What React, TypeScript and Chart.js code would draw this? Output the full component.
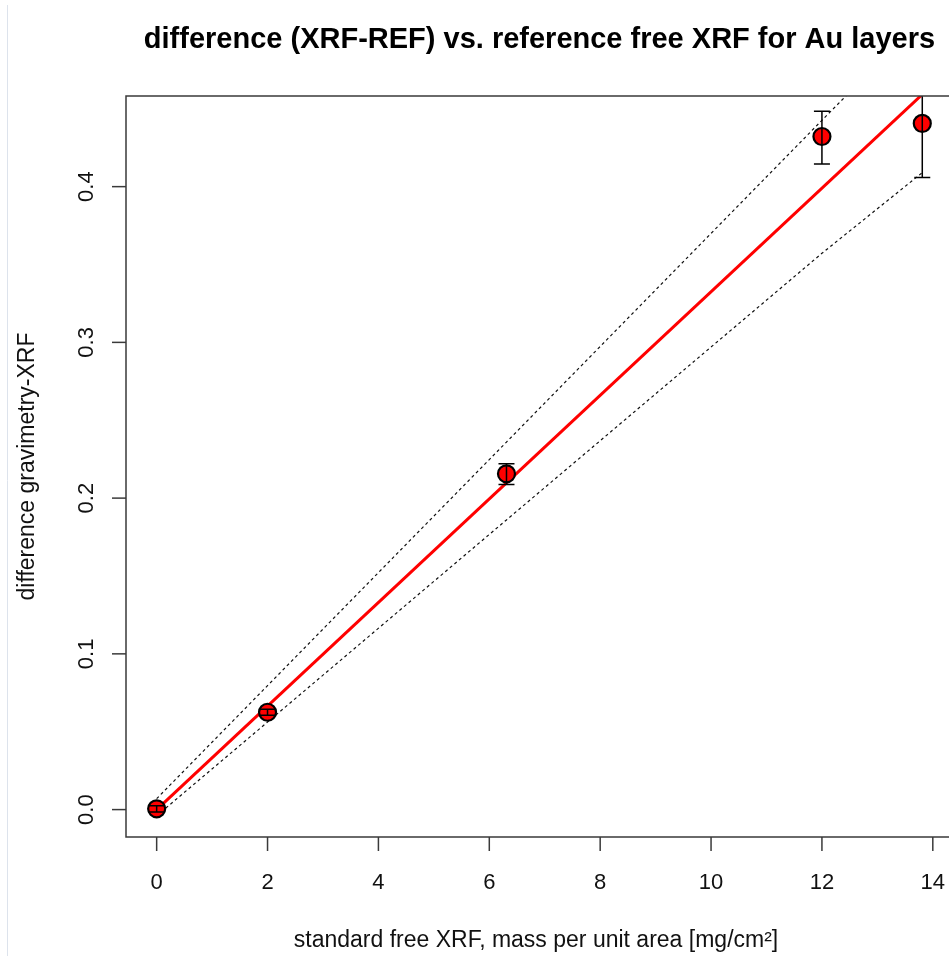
import React, { useEffect, useRef } from "react";
import { Chart, registerables } from "chart.js";

Chart.register(...registerables);

const titleText = "difference (XRF-REF) vs. reference free XRF for Au layers";
const xTitle = "standard free XRF, mass per unit area [mg/cm²]";
const yTitle = "difference gravimetry-XRF";

const xValues = [0, 2, 6.31, 12, 13.81];
const yValues = [0.0005, 0.0625, 0.2156, 0.4322, 0.4406];
const yErrLow = [-0.0015, 0.0605, 0.2087, 0.4146, 0.4059];
const yErrHigh = [0.0025, 0.0645, 0.222, 0.4484, 0.4753];

const fitX = [0, 13.81];
const fitY = [0, 0.4592];

const bandX = [0, 2, 6.31, 12, 13.81];
const bandUpper = [0.007, 0.0796, 0.236, 0.4426, 0.508];
const bandLower = [-0.004, 0.0562, 0.186, 0.3572, 0.409];

const xTicks = [0, 2, 4, 6, 8, 10, 12, 14];
const xTickLabels = ["0", "2", "4", "6", "8", "10", "12", "14"];
const yTicks = [0, 0.1, 0.2, 0.3, 0.4];
const yTickLabels = ["0.0", "0.1", "0.2", "0.3", "0.4"];

const FONT = '"Liberation Sans", Arial, sans-serif';

const decorPlugin = {
  id: "decor",
  afterDatasetsDraw(chart: any) {
    const ctx = chart.ctx;
    const area = chart.chartArea;
    const xs = chart.scales.x;
    const ys = chart.scales.y;
    // error bars
    ctx.save();
    ctx.beginPath();
    ctx.rect(area.left, area.top, area.right - area.left, area.bottom - area.top);
    ctx.clip();
    ctx.strokeStyle = "#000";
    ctx.lineWidth = 1.5;
    for (let i = 0; i < xValues.length; i++) {
      const px = xs.getPixelForValue(xValues[i]);
      const lo = ys.getPixelForValue(yErrLow[i]);
      const hi = ys.getPixelForValue(yErrHigh[i]);
      ctx.beginPath();
      ctx.moveTo(px, lo);
      ctx.lineTo(px, hi);
      ctx.moveTo(px - 8, lo);
      ctx.lineTo(px + 8, lo);
      ctx.moveTo(px - 8, hi);
      ctx.lineTo(px + 8, hi);
      ctx.stroke();
    }
    ctx.restore();

    // box (left, top, bottom; right edge lies outside the picture)
    ctx.save();
    ctx.strokeStyle = "#3a3a3a";
    ctx.lineWidth = 1.5;
    ctx.beginPath();
    ctx.moveTo(chart.width + 2, area.top);
    ctx.lineTo(area.left, area.top);
    ctx.lineTo(area.left, area.bottom);
    ctx.lineTo(chart.width + 2, area.bottom);
    ctx.stroke();

    // x ticks
    ctx.fillStyle = "#111";
    ctx.font = `22px ${FONT}`;
    ctx.textAlign = "center";
    ctx.textBaseline = "alphabetic";
    xTicks.forEach((v, i) => {
      const px = xs.getPixelForValue(v);
      ctx.beginPath();
      ctx.moveTo(px, area.bottom);
      ctx.lineTo(px, area.bottom + 14);
      ctx.stroke();
      ctx.fillText(xTickLabels[i], px, 889);
    });
    // y ticks
    yTicks.forEach((v, i) => {
      const py = ys.getPixelForValue(v);
      ctx.beginPath();
      ctx.moveTo(area.left, py);
      ctx.lineTo(area.left - 14, py);
      ctx.stroke();
      ctx.save();
      ctx.translate(93, py);
      ctx.rotate(-Math.PI / 2);
      ctx.fillText(yTickLabels[i], 0, 0);
      ctx.restore();
    });

    // axis titles
    ctx.font = `23px ${FONT}`;
    ctx.fillText(xTitle, 536, 947);
    ctx.save();
    ctx.translate(34, (area.top + area.bottom) / 2);
    ctx.rotate(-Math.PI / 2);
    ctx.fillText(yTitle, 0, 0);
    ctx.restore();

    // main title
    ctx.fillStyle = "#000";
    ctx.font = `bold 29px ${FONT}`;
    ctx.fillText(titleText, 539.5, 48);

    // faint left edge line
    ctx.strokeStyle = "#dde3ec";
    ctx.lineWidth = 1;
    ctx.beginPath();
    ctx.moveTo(7.5, 5);
    ctx.lineTo(7.5, 956);
    ctx.stroke();
    ctx.restore();
  },
};

export default function App() {
  const ref = useRef<HTMLCanvasElement | null>(null);
  useEffect(() => {
    if (!ref.current) return;
    const chart = new Chart(ref.current, {
      type: "scatter",
      data: {
        datasets: [
          {
            type: "scatter",
            data: xValues.map((x, i) => ({ x, y: yValues[i] })),
            backgroundColor: "#ff0000",
            borderColor: "#000",
            borderWidth: 2.2,
            pointRadius: 8.5,
            order: 0,
          },
          {
            type: "line",
            data: fitX.map((x, i) => ({ x, y: fitY[i] })),
            borderColor: "#ff0000",
            borderWidth: 3,
            pointRadius: 0,
            fill: false,
            order: 1,
          },
          {
            type: "line",
            data: bandX.map((x, i) => ({ x, y: bandUpper[i] })),
            borderColor: "#111",
            borderWidth: 1.2,
            borderDash: [3, 3],
            pointRadius: 0,
            fill: false,
            order: 2,
          },
          {
            type: "line",
            data: bandX.map((x, i) => ({ x, y: bandLower[i] })),
            borderColor: "#111",
            borderWidth: 1.2,
            borderDash: [3, 3],
            pointRadius: 0,
            fill: false,
            order: 2,
          },
        ],
      } as any,
      options: {
        responsive: false,
        animation: false,
        events: [],
        layout: { autoPadding: false, padding: { left: 126, top: 96, right: 0, bottom: 119 } },
        plugins: { legend: { display: false }, tooltip: { enabled: false }, title: { display: false } },
        scales: {
          x: { type: "linear", min: -0.553, max: 14.292, display: false },
          y: { type: "linear", min: -0.0176, max: 0.4582, display: false },
        },
      },
      plugins: [decorPlugin],
    });
    return () => chart.destroy();
  }, []);
  return (
    <div style={{ position: "absolute", left: 0, top: 0, width: 949, height: 956, overflow: "hidden", background: "#fff" }}>
      <canvas ref={ref} width={949} height={956} style={{ width: 949, height: 956, display: "block" }} />
    </div>
  );
}
